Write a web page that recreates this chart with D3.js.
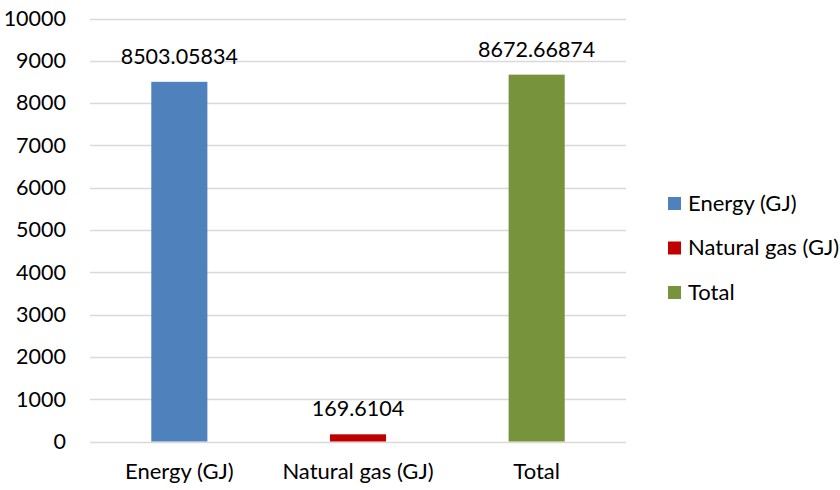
<!DOCTYPE html>
<html><head><meta charset="utf-8">
<script src="https://cdn.jsdelivr.net/npm/d3@7"></script>
<style>body{margin:0;background:#fff}text{font-family:Lato,"Open Sans",sans-serif;fill:#000}</style>
</head><body><svg id="c" width="840" height="490"></svg>
<script>
const categories = ["Energy (GJ)", "Natural gas (GJ)", "Total"];
const values = [8503.05834, 169.6104, 8672.66874];
const valueLabels = ["8503.05834", "169.6104", "8672.66874"];
const colors = ["#4F81BD", "#C00000", "#77933C"];
const yTicks = [0,1000,2000,3000,4000,5000,6000,7000,8000,9000,10000];

const svg = d3.select("#c");
const fsNum = 21.5, fsTxt = 22;
const x = d3.scaleBand().domain(categories).range([90, 626]).paddingInner(0.686).paddingOuter(0.343);
const y = d3.scaleLinear().domain([0, 10000]).range([441.5, 18.5]);

// grid
svg.append("g").selectAll("line").data(yTicks).join("line")
  .attr("x1", 90).attr("x2", 626)
  .attr("y1", d => Math.round(y(d)) + 0.5).attr("y2", d => Math.round(y(d)) + 0.5)
  .attr("stroke", "#D9D9D9").attr("stroke-width", 1.5);

// y axis
const ya = svg.append("g").attr("transform", "translate(90,0)")
  .call(d3.axisLeft(y).tickValues(yTicks).tickSize(0).tickPadding(24).tickFormat(d3.format("d")));
ya.select(".domain").remove();
ya.selectAll("text").style("font-size", fsNum + "px").attr("fill", "#000");

// x axis
const xa = svg.append("g").attr("transform", "translate(0,441.5)")
  .call(d3.axisBottom(x).tickSize(0).tickPadding(22));
xa.select(".domain").remove();
xa.selectAll("text").style("font-size", fsTxt + "px").attr("fill", "#000");

// bars
svg.append("g").selectAll("rect").data(values).join("rect")
  .attr("x", (d, i) => x(categories[i])).attr("width", x.bandwidth())
  .attr("y", d => y(d)).attr("height", d => y(0) - y(d))
  .attr("fill", (d, i) => colors[i]);

// labels
svg.append("g").selectAll("text").data(values).join("text")
  .attr("x", (d, i) => x(categories[i]) + x.bandwidth() / 2)
  .attr("y", d => y(d) - 18)
  .attr("text-anchor", "middle").style("font-size", fsNum + "px")
  .text((d, i) => valueLabels[i]);

// legend
const lg = svg.append("g").selectAll("g").data(categories).join("g")
  .attr("transform", (d, i) => `translate(668,${203 + i * 44.5})`);
lg.append("rect").attr("x", 0).attr("y", -6).attr("width", 13).attr("height", 13)
  .attr("fill", (d, i) => colors[i]);
lg.append("text").attr("x", 20).attr("y", 0).attr("dy", "0.35em")
  .style("font-size", fsTxt + "px").text(d => d);
</script></body></html>
